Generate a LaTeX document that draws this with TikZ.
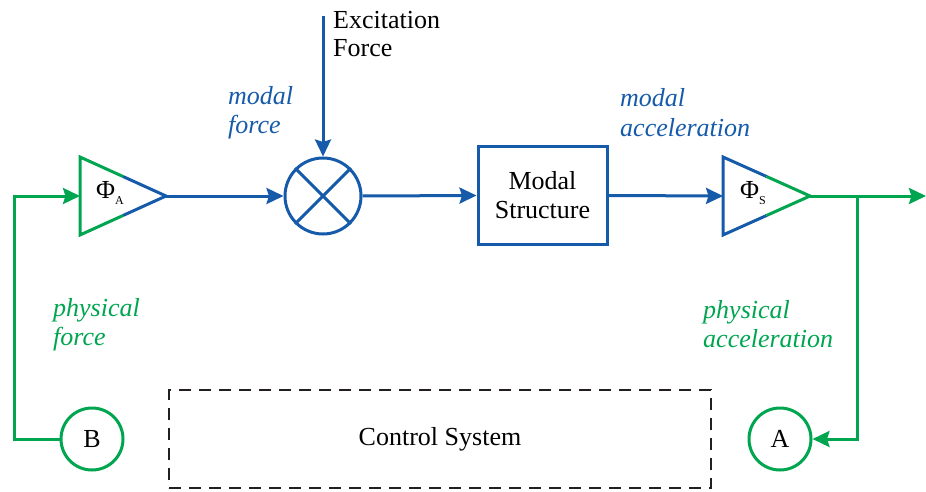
\documentclass[tikz,border=0pt]{standalone}
\usepackage{fontspec}
\setmainfont{Liberation Serif}
\newfontfamily\tms{Liberation Serif}
\usetikzlibrary{arrows.meta}
\definecolor{cblue}{RGB}{22,90,170}
\definecolor{cgreen}{RGB}{0,165,80}
\definecolor{cdash}{RGB}{35,31,32}
\newcommand{\mysub}[1]{\raisebox{-6.5pt}{\fontsize{12}{12}\selectfont #1}}
\begin{document}
\begin{tikzpicture}[x=1pt,y=-1pt,
  txt/.style={font=\tms\fontsize{26}{29}\selectfont, inner sep=0pt},
  lblblue/.style={font=\tms\fontsize{26}{29}\selectfont\itshape, inner sep=0pt, text=cblue, anchor=base west},
  lblgreen/.style={font=\tms\fontsize{26}{29}\selectfont\itshape, inner sep=0pt, text=cgreen, anchor=base west},
  wire/.style={line width=3pt},
  arr/.style={-{Stealth[length=17pt,width=16pt,inset=2.5pt]}},
  bwire/.style={wire, draw=cblue},
  gwire/.style={wire, draw=cgreen},
]
\useasboundingbox (0,0) rectangle (926,492);

% triangle A
\draw[gwire, line join=miter] (123,176.5) -- (80,157) -- (80,235) -- (123,215.5);
\draw[bwire, line join=miter] (123,176.5) -- (166,196) -- (123,215.5);
\coordinate (tAin) at (80,196);
\coordinate (tAout) at (166,196);
\node[txt] (phiA) at (110,193) {Φ\mysub{A}};

% triangle S
\draw[bwire, line join=miter] (766.5,176.5) -- (723,157) -- (723,235) -- (766.5,215.5);
\draw[gwire, line join=miter] (766.5,176.5) -- (810,196) -- (766.5,215.5);
\coordinate (tSin) at (723,196);
\coordinate (tSout) at (810,196);
\node[txt] (phiS) at (753,193) {Φ\mysub{S}};

% multiplier
\node[circle, bwire, minimum size=76pt, inner sep=0pt] (mult) at (323,196) {};
\draw[bwire] (mult.north west) -- (mult.south east);
\draw[bwire] (mult.north east) -- (mult.south west);

% modal structure
\node[draw=cblue, wire, txt, align=center, minimum width=129pt, minimum height=97pt] (ms) at (542.5,195.5) {Modal\\Structure};

% circles A and B
\node[circle, gwire, minimum size=62pt, inner sep=0pt, txt] (B) at (92,439) {B};
\node[circle, gwire, minimum size=62pt, inner sep=0pt, txt] (A) at (780,439) {A};

% control system
\node[draw=cdash, line width=2.6pt, dash pattern=on 12pt off 8pt, txt, minimum width=542pt, minimum height=98pt] (cs) at (440,439) {Control System};

% texts
\node[txt, anchor=base west] (exc1) at (333,29) {Excitation};
\node[txt, anchor=base west] (exc2) at (333,57) {Force};
\node[lblblue] (mf1) at (228,105) {modal};
\node[lblblue] (mf2) at (228,134) {force};
\node[lblblue] (ma1) at (620,107) {modal};
\node[lblblue] (ma2) at (620,136) {acceleration};
\node[lblgreen] (pf1) at (53,316) {physical};
\node[lblgreen] (pf2) at (53,345) {force};
\node[lblgreen] (pa1) at (703,318) {physical};
\node[lblgreen] (pa2) at (703,347) {acceleration};

% connectors
\coordinate (exc) at (323,16);
\coordinate (lc) at (14,439);
\coordinate (branch) at (857,196);
\coordinate (outend) at (926,196);
\draw[bwire, arr] (exc) -- (mult.north);
\draw[bwire, arr] (tAout) -- (mult.west);
\draw[bwire, arr] (mult.east) -- (ms.west);
\draw[bwire, arr] (ms.east) -- (tSin);
\draw[gwire, arr] (tSout) -- (outend);
\draw[gwire, arr] (branch) |- (A.east);
\draw[gwire, arr] (B.west) -- (lc) |- (tAin);
\end{tikzpicture}
\end{document}
